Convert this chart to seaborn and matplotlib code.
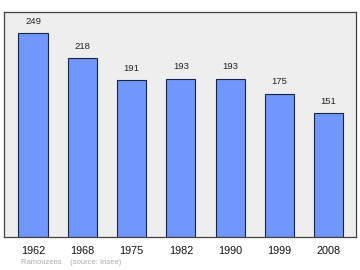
import matplotlib
matplotlib.use("Agg")
import matplotlib.pyplot as plt
import seaborn as sns
import pandas as pd

years = ["1962", "1968", "1975", "1982", "1990", "1999", "2008"]
population = [249, 218, 191, 193, 193, 175, 151]

sns.set_theme(style="white")
plt.rcParams['font.family'] = ['Liberation Sans', 'DejaVu Sans']

df = pd.DataFrame({"year": years, "pop": population})

fig = plt.figure(figsize=(3.6, 2.7), dpi=100)
ax = fig.add_axes([0.011, 0.122, 0.977, 0.832])
ax.set_facecolor("#eeeeee")

sns.barplot(data=df, x="year", y="pop", ax=ax, color="#7097fb",
            saturation=1, width=0.59, edgecolor="#1c2444", linewidth=0.8)

for i, v in enumerate(population):
    ax.text(i, v + 9, str(v), ha="center", va="bottom", fontsize=6.8, color="#222222")

ax.set_xlim(-0.59, 6.55)
ax.set_ylim(0, 274)
ax.set_yticks([])
ax.set_xlabel("")
ax.set_ylabel("")
ax.tick_params(axis="x", length=0, pad=6.5, labelsize=7.8, colors="#111111")
for s in ax.spines.values():
    s.set_visible(True)
    s.set_color("#444444")
    s.set_linewidth(0.9)

fig.text(21/360, 1 - 262.5/270, "Ramouzens    (source: Insee)", fontsize=5.5,
         color="#aaaaaa", ha="left", va="center")

fig.savefig("out.png", dpi=100, facecolor="white")
